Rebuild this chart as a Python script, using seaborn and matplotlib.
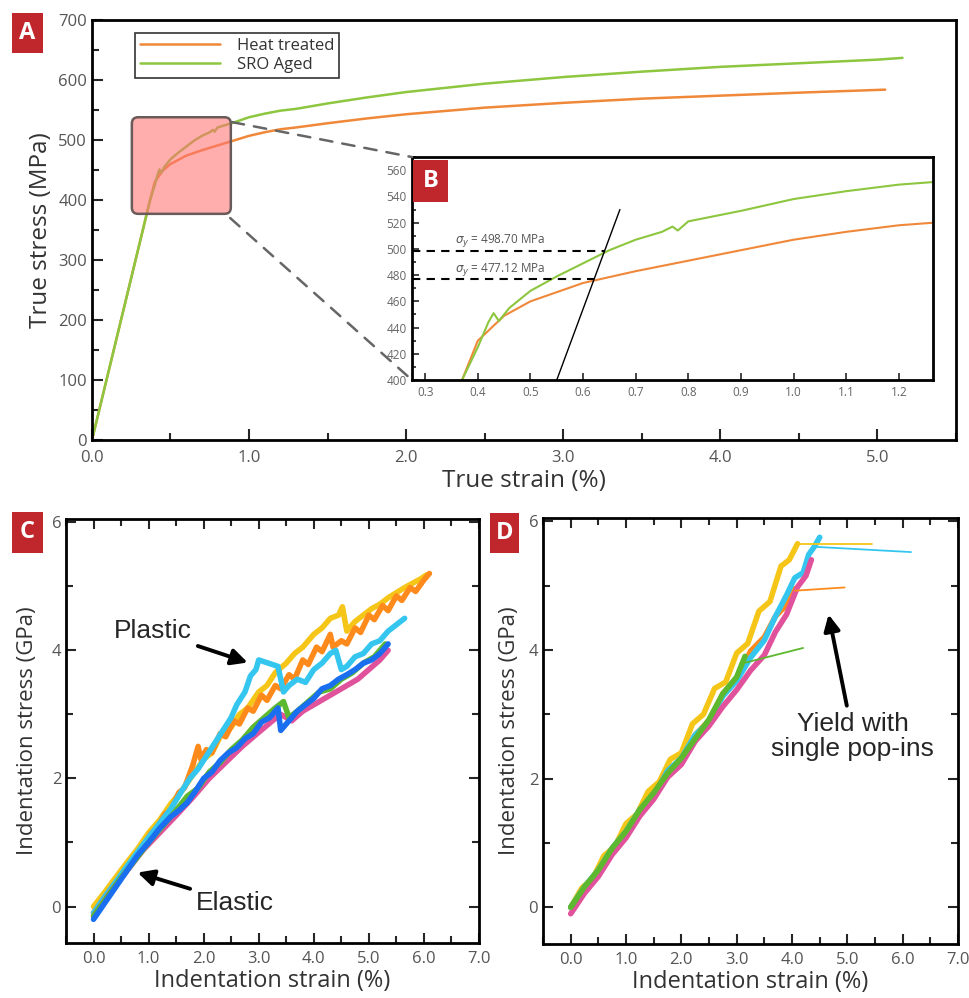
import numpy as np
import pandas as pd
import matplotlib.pyplot as plt
import seaborn as sns
from matplotlib.patches import FancyBboxPatch, Rectangle, ConnectionPatch
from matplotlib.ticker import MultipleLocator

# ---- panel A / B : tensile curves ----
heat_strain = [0.0, 0.37, 0.40, 0.45, 0.50, 0.55, 0.60, 0.70, 0.80, 0.90, 1.00, 1.10, 1.20,
               1.30, 1.50, 1.75, 2.00, 2.50, 3.00, 3.50, 4.00, 4.50, 5.05]
heat_stress = [0, 400, 430, 449, 460, 467, 474, 483, 491, 499, 507, 513, 518,
               521, 528, 536, 543, 554, 562, 569, 574, 579, 584]
sro_strain = [0.0, 0.37, 0.40, 0.42, 0.43, 0.44, 0.45, 0.46, 0.50, 0.55, 0.60, 0.65, 0.70,
              0.75, 0.77, 0.78, 0.80, 0.90, 1.00, 1.10, 1.20, 1.30, 1.50, 1.75, 2.00,
              2.50, 3.00, 3.50, 4.00, 4.50, 5.00, 5.16]
sro_stress = [0, 400, 425, 444, 451, 445, 450, 455, 468, 479, 489, 499, 507,
              513, 517, 514, 521, 529, 538, 544, 549, 552, 561, 571, 580,
              594, 605, 614, 622, 628, 634, 637]
offset_strain = [0.55, 0.67]
offset_stress = [400, 530]
yield_sro = 498.70
yield_heat = 477.12
yield_sro_strain = 0.641
yield_heat_strain = 0.621

# ---- panel C : indentation, heat treated ----
c_orange_x = [0.00, 0.15, 0.30, 0.45, 0.60, 0.75, 0.90, 1.05, 1.15, 1.30, 1.40, 1.55, 1.65, 1.80,
              1.90, 1.95, 2.05, 2.15, 2.30, 2.40, 2.55, 2.65, 2.80, 2.90, 3.05, 3.15, 3.30, 3.40,
              3.55, 3.65, 3.80, 3.90, 4.05, 4.15, 4.30, 4.35, 4.50, 4.60, 4.75, 4.85, 5.00, 5.10,
              5.25, 5.35, 5.50, 5.60, 5.75, 5.85, 6.00, 6.10]
c_orange_y = [-0.10, 0.08, 0.25, 0.42, 0.60, 0.78, 0.95, 1.15, 1.22, 1.45, 1.50, 1.78, 1.85, 2.20,
              2.50, 2.30, 2.45, 2.40, 2.70, 2.65, 2.90, 2.85, 3.10, 3.05, 3.30, 3.22, 3.45, 3.40,
              3.62, 3.55, 3.85, 3.78, 4.05, 3.98, 4.25, 4.05, 4.15, 4.10, 4.35, 4.28, 4.55, 4.48,
              4.70, 4.62, 4.85, 4.78, 4.98, 4.92, 5.10, 5.20]
c_yellow_x = [0.0, 0.2, 0.4, 0.6, 0.8, 1.0, 1.2, 1.4, 1.6, 1.8, 2.0, 2.15, 2.3, 2.5, 2.65, 2.8,
              3.0, 3.15, 3.3, 3.5, 3.65, 3.8, 4.0, 4.15, 4.3, 4.45, 4.52, 4.6, 4.75, 4.9, 5.05,
              5.2, 5.35, 5.5, 5.65, 5.8, 5.95, 6.05]
c_yellow_y = [0.0, 0.22, 0.45, 0.68, 0.90, 1.15, 1.35, 1.60, 1.80, 2.05, 2.30, 2.40, 2.65, 2.80,
              3.00, 3.10, 3.35, 3.45, 3.65, 3.80, 3.95, 4.05, 4.25, 4.35, 4.50, 4.55, 4.68, 4.30,
              4.45, 4.55, 4.65, 4.72, 4.82, 4.90, 4.98, 5.05, 5.12, 5.18]
c_cyan_x = [0.0, 0.2, 0.4, 0.6, 0.8, 1.0, 1.2, 1.4, 1.6, 1.75, 1.9, 2.05, 2.2, 2.35, 2.5, 2.6,
            2.75, 2.85, 2.95, 3.0, 3.35, 3.45, 3.55, 3.7, 3.85, 4.0, 4.15, 4.3, 4.4, 4.5, 4.6,
            4.75, 4.9, 5.05, 5.2, 5.35, 5.5, 5.65]
c_cyan_y = [-0.10, 0.15, 0.38, 0.62, 0.85, 1.08, 1.30, 1.52, 1.80, 2.00, 2.15, 2.35, 2.55, 2.75,
            2.95, 3.15, 3.35, 3.60, 3.70, 3.85, 3.75, 3.35, 3.45, 3.55, 3.50, 3.70, 3.80, 3.95,
            4.00, 3.70, 3.75, 3.90, 3.95, 4.10, 4.15, 4.30, 4.40, 4.50]
c_pink_x = [0.0, 0.3, 0.6, 0.9, 1.2, 1.5, 1.8, 2.1, 2.4, 2.7, 3.0, 3.25, 3.4, 3.6, 3.8, 4.0,
            4.2, 4.4, 4.6, 4.8, 5.0, 5.2, 5.35]
c_pink_y = [-0.15, 0.22, 0.55, 0.88, 1.15, 1.42, 1.70, 2.00, 2.25, 2.50, 2.72, 2.90, 3.00, 2.90,
            3.05, 3.15, 3.25, 3.35, 3.45, 3.55, 3.70, 3.85, 4.00]
c_green_x = [0.0, 0.25, 0.5, 0.75, 1.0, 1.25, 1.5, 1.7, 1.9, 2.1, 2.3, 2.5, 2.7, 2.9, 3.1, 3.3,
             3.45, 3.55, 3.7, 3.9, 4.1, 4.3, 4.5, 4.7, 4.9, 5.1, 5.3]
c_green_y = [-0.15, 0.15, 0.45, 0.72, 1.00, 1.25, 1.50, 1.72, 1.85, 2.10, 2.25, 2.45, 2.60, 2.80,
             2.95, 3.10, 3.20, 2.95, 3.05, 3.20, 3.35, 3.40, 3.55, 3.65, 3.80, 3.90, 4.10]
c_blue_x = [0.0, 0.2, 0.4, 0.6, 0.8, 1.0, 1.2, 1.4, 1.55, 1.7, 1.85, 2.0, 2.15, 2.3, 2.45, 2.6,
            2.75, 2.9, 3.05, 3.2, 3.35, 3.40, 3.55, 3.7, 3.85, 4.0, 4.15, 4.3, 4.45, 4.6, 4.75,
            4.9, 5.05, 5.2, 5.35]
c_blue_y = [-0.20, 0.05, 0.30, 0.55, 0.80, 1.00, 1.22, 1.40, 1.50, 1.62, 1.80, 2.00, 2.10, 2.28,
            2.40, 2.48, 2.62, 2.70, 2.88, 2.95, 3.10, 2.75, 2.90, 3.05, 3.15, 3.25, 3.40, 3.45,
            3.55, 3.62, 3.70, 3.80, 3.85, 3.95, 4.10]

# ---- panel D : indentation, SRO aged ----
d_yellow_x = [0.0, 0.2, 0.4, 0.6, 0.8, 1.0, 1.2, 1.4, 1.6, 1.8, 2.0, 2.2, 2.4, 2.6, 2.8, 3.0,
              3.2, 3.4, 3.6, 3.8, 3.95, 4.1]
d_yellow_y = [0.0, 0.30, 0.45, 0.80, 0.95, 1.30, 1.45, 1.80, 1.95, 2.30, 2.40, 2.85, 3.00, 3.40,
              3.50, 3.95, 4.10, 4.60, 4.75, 5.30, 5.40, 5.65]
d_yellow_pop_x = [4.1, 5.45]
d_yellow_pop_y = [5.65, 5.65]
d_orange_x = [0.0, 0.25, 0.5, 0.75, 1.0, 1.25, 1.5, 1.75, 2.0, 2.25, 2.5, 2.75, 3.0, 3.25, 3.5,
              3.7, 3.9, 4.05]
d_orange_y = [0.0, 0.30, 0.55, 0.92, 1.15, 1.52, 1.75, 2.12, 2.30, 2.68, 2.90, 3.32, 3.55, 3.98,
              4.20, 4.52, 4.70, 4.95]
d_orange_pop_x = [4.05, 4.95]
d_orange_pop_y = [4.92, 4.97]
d_cyan_x = [0.0, 0.25, 0.5, 0.75, 1.0, 1.25, 1.5, 1.75, 2.0, 2.25, 2.5, 2.75, 3.0, 3.25, 3.5,
            3.7, 3.9, 4.05, 4.2, 4.3, 4.4, 4.5]
d_cyan_y = [0.0, 0.32, 0.58, 0.92, 1.18, 1.52, 1.72, 2.12, 2.32, 2.68, 2.88, 3.28, 3.52, 3.88,
            4.15, 4.52, 4.85, 5.12, 5.20, 5.48, 5.60, 5.75]
d_cyan_pop_x = [4.45, 6.15]
d_cyan_pop_y = [5.60, 5.52]
d_pink_x = [0.0, 0.25, 0.5, 0.75, 1.0, 1.25, 1.5, 1.75, 2.0, 2.25, 2.5, 2.75, 3.0, 3.25, 3.5,
            3.7, 3.9, 4.1, 4.25, 4.35]
d_pink_y = [-0.10, 0.22, 0.48, 0.82, 1.08, 1.42, 1.68, 2.02, 2.22, 2.58, 2.82, 3.12, 3.38, 3.68,
            3.92, 4.28, 4.55, 4.98, 5.15, 5.40]
d_green_x = [0.0, 0.25, 0.5, 0.75, 1.0, 1.25, 1.5, 1.75, 2.0, 2.25, 2.5, 2.75, 3.0, 3.15]
d_green_y = [0.0, 0.32, 0.58, 0.92, 1.18, 1.52, 1.78, 2.08, 2.32, 2.62, 2.92, 3.32, 3.58, 3.90]
d_green_pop_x = [3.15, 4.2]
d_green_pop_y = [3.80, 4.03]

heat_color = "#f0883a"
sro_color = "#8dc63f"
ind_colors = {"orange": "#ff8a1c", "yellow": "#f5c518", "cyan": "#35c6f0",
              "green": "#5cb82e", "blue": "#1a6ff0", "pink": "#e0529c"}
label_red = "#c0272d"
tick_gray = "#555555"

sns.set_theme(style="ticks")
plt.rcParams["font.family"] = ["Open Sans", "DejaVu Sans"]
plt.rcParams["axes.edgecolor"] = "black"

fig = plt.figure(figsize=(9.69, 9.98), dpi=100)

# ---------------- panel A ----------------
axA = fig.add_axes([0.0949, 0.5591, 0.8916, 0.4208])
sns.lineplot(x=heat_strain, y=heat_stress, ax=axA, color=heat_color, lw=1.8,
             sort=False, estimator=None, label="Heat treated")
sns.lineplot(x=sro_strain, y=sro_stress, ax=axA, color=sro_color, lw=1.8,
             sort=False, estimator=None, label="SRO Aged")
axA.set_xlim(0, 5.5)
axA.set_ylim(0, 700)
axA.xaxis.set_major_locator(MultipleLocator(1.0))
axA.xaxis.set_minor_locator(MultipleLocator(0.5))
axA.yaxis.set_major_locator(MultipleLocator(100))
axA.yaxis.set_minor_locator(MultipleLocator(50))
axA.xaxis.set_major_formatter(lambda v, p: f"{v:.1f}")
axA.tick_params(which="both", direction="in", labelsize=12, labelcolor=tick_gray, width=1.5)
axA.tick_params(which="major", length=8)
axA.tick_params(which="minor", length=5)
axA.tick_params(axis="x", pad=7)
for s in axA.spines.values():
    s.set_linewidth(2)
axA.set_xlabel("True strain (%)", fontsize=17.5, color="#333333", labelpad=2)
axA.set_ylabel("True stress (MPa)", fontsize=17.5, color="#333333", labelpad=4)
leg = axA.legend(loc="upper left", bbox_to_anchor=(0.04, 0.99), fontsize=12,
                 handlelength=4.8, handletextpad=1.0, fancybox=False, framealpha=1,
                 borderpad=0.3, labelspacing=0.2)
leg.get_frame().set_edgecolor("#333333")
leg.get_frame().set_linewidth(1.2)
for t in leg.get_texts():
    t.set_color("#333333")

zoom_box = FancyBboxPatch((0.254, 377), 0.63, 161,
                          boxstyle="round,pad=0,rounding_size=0.04",
                          mutation_aspect=262, facecolor=(1, 0.45, 0.45, 0.58),
                          edgecolor="#6a5a5a", lw=1.8, zorder=5)
axA.add_patch(zoom_box)

# ---------------- inset B ----------------
axB = fig.add_axes([0.4252, 0.6192, 0.5377, 0.2234])
sns.lineplot(x=heat_strain, y=heat_stress, ax=axB, color=heat_color, lw=1.5,
             sort=False, estimator=None)
sns.lineplot(x=sro_strain, y=sro_stress, ax=axB, color=sro_color, lw=1.5,
             sort=False, estimator=None)
sns.lineplot(x=offset_strain, y=offset_stress, ax=axB, color="black", lw=1.0,
             sort=False, estimator=None)
axB.plot([0.275, yield_sro_strain], [yield_sro, yield_sro], color="black", lw=1.5, ls=(0, (4, 3)))
axB.plot([0.275, yield_heat_strain], [yield_heat, yield_heat], color="black", lw=1.5, ls=(0, (4, 3)))
axB.text(0.357, yield_sro + 1, r"$\sigma_y$ = 498.70 MPa", fontsize=8.5, color="#555555", va="bottom")
axB.text(0.357, yield_heat + 1, r"$\sigma_y$ = 477.12 MPa", fontsize=8.5, color="#555555", va="bottom")
axB.set_xlim(0.275, 1.265)
axB.set_ylim(400, 570)
axB.xaxis.set_major_locator(MultipleLocator(0.1))
axB.yaxis.set_major_locator(MultipleLocator(20))
axB.yaxis.set_minor_locator(MultipleLocator(10))
axB.xaxis.set_major_formatter(lambda v, p: f"{v:.1f}")
axB.tick_params(which="both", direction="in", labelsize=8.5, labelcolor="#666666", width=1.2, pad=4)
axB.tick_params(which="major", length=5)
axB.tick_params(which="minor", length=3)
for s in axB.spines.values():
    s.set_linewidth(2)

for xyA, xyB in [((0.89, 530), (0, 1)), ((0.88, 370), (0, 0))]:
    con = ConnectionPatch(xyA=xyA, coordsA=axA.transData, xyB=xyB, coordsB=axB.transAxes,
                          color="#666666", lw=1.8, ls=(0, (5, 4)))
    fig.add_artist(con)


def style_indent(ax):
    ax.set_xlim(-0.5, 7.0)
    ax.set_ylim(-0.57, 6.05)
    ax.xaxis.set_major_locator(MultipleLocator(1.0))
    ax.xaxis.set_minor_locator(MultipleLocator(0.5))
    ax.yaxis.set_major_locator(MultipleLocator(2))
    ax.yaxis.set_minor_locator(MultipleLocator(1))
    ax.xaxis.set_major_formatter(lambda v, p: f"{v:.1f}")
    ax.tick_params(which="both", direction="in", top=True, right=True,
                   labelsize=12, labelcolor=tick_gray, width=1.5)
    ax.tick_params(axis="x", pad=6)
    ax.tick_params(which="major", length=7)
    ax.tick_params(which="minor", length=5)
    for s in ax.spines.values():
        s.set_linewidth(2)
    ax.set_xlabel("Indentation strain (%)", fontsize=17, color="#333333", labelpad=1)


# ---------------- panel C ----------------
axC = fig.add_axes([0.0681, 0.0551, 0.4262, 0.4248])
for xs, ys, c in [(c_yellow_x, c_yellow_y, "yellow"), (c_orange_x, c_orange_y, "orange"),
                  (c_cyan_x, c_cyan_y, "cyan"), (c_pink_x, c_pink_y, "pink"),
                  (c_green_x, c_green_y, "green"), (c_blue_x, c_blue_y, "blue")]:
    sns.lineplot(x=xs, y=ys, ax=axC, color=ind_colors[c], lw=4, sort=False, estimator=None)
style_indent(axC)
axC.set_ylabel("Indentation stress (GPa)", fontsize=16, color="#333333", labelpad=10)
arrow = dict(arrowstyle="-|>", color="black", lw=2.8, mutation_scale=24, shrinkA=2, shrinkB=0)
axC.annotate("Plastic", xy=(2.8, 3.81), xytext=(1.08, 4.3), ha="center", va="center",
             fontsize=19, family=["Liberation Sans", "DejaVu Sans"], arrowprops=arrow)
axC.annotate("Elastic", xy=(0.8, 0.53), xytext=(2.57, 0.06), ha="center", va="center",
             fontsize=19, family=["Liberation Sans", "DejaVu Sans"], arrowprops=arrow)

# ---------------- panel D ----------------
axD = fig.add_axes([0.5604, 0.0541, 0.4283, 0.4269])
for xs, ys, c in [(d_yellow_x, d_yellow_y, "yellow"), (d_orange_x, d_orange_y, "orange"),
                  (d_cyan_x, d_cyan_y, "cyan"), (d_pink_x, d_pink_y, "pink"),
                  (d_green_x, d_green_y, "green")]:
    sns.lineplot(x=xs, y=ys, ax=axD, color=ind_colors[c], lw=4, sort=False, estimator=None)
for xs, ys, c in [(d_yellow_pop_x, d_yellow_pop_y, "yellow"), (d_orange_pop_x, d_orange_pop_y, "orange"),
                  (d_cyan_pop_x, d_cyan_pop_y, "cyan"), (d_green_pop_x, d_green_pop_y, "green")]:
    sns.lineplot(x=xs, y=ys, ax=axD, color=ind_colors[c], lw=1.3, sort=False, estimator=None)
style_indent(axD)
axD.set_ylabel("Indentation stress (GPa)", fontsize=16, color="#333333", labelpad=6)
axD.annotate("Yield with\nsingle pop-ins", xy=(4.66, 4.55), xytext=(5.1, 2.66), ha="center",
             va="center", fontsize=19, family=["Liberation Sans", "DejaVu Sans"],
             linespacing=1.05, arrowprops=arrow)

# ---------------- panel letters ----------------
for letter, (x0, y0, w, h) in {"A": (0.0124, 0.9469, 0.032, 0.0401),
                                "B": (0.4262, 0.7976, 0.0361, 0.0421),
                                "C": (0.0124, 0.4459, 0.032, 0.0411),
                                "D": (0.5057, 0.4459, 0.0299, 0.0401)}.items():
    fig.add_artist(Rectangle((x0, y0), w, h, transform=fig.transFigure,
                             facecolor=label_red, edgecolor="none", zorder=10))
    fig.text(x0 + w / 2, y0 + h / 2, letter, color="white", fontsize=17, weight="bold",
             ha="center", va="center", zorder=11)

fig.savefig("out.png", dpi=100)
